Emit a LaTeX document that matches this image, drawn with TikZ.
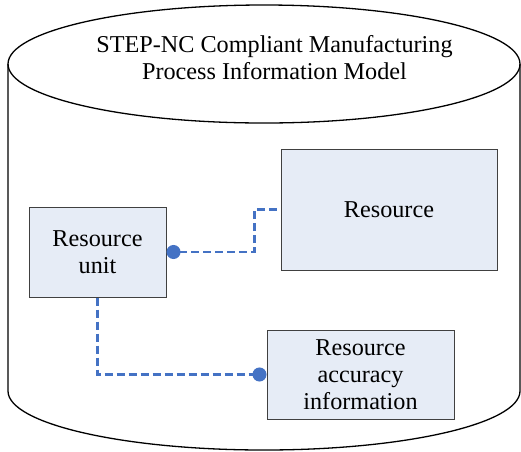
\documentclass[tikz,border=0pt]{standalone}
\usepackage{fontspec}
\setmainfont{Liberation Serif}
\usetikzlibrary{arrows.meta}
\definecolor{boxfill}{HTML}{E6ECF6}
\definecolor{boxline}{HTML}{404040}
\definecolor{connblue}{HTML}{4472C4}
\begin{document}
\begin{tikzpicture}[x=1pt,y=-1pt,
  box/.style={draw=boxline,line width=1pt,fill=boxfill,align=center,inner sep=0pt,
    font=\fontsize{24.2}{27}\selectfont},
  conn/.style={draw=connblue,line width=2.2pt,dash pattern=on 8pt off 4pt}]
\useasboundingbox (0,0) rectangle (521,451);
% cylinder
\begin{scope}[line width=1.3pt]
\draw (264,64) ellipse [x radius=256, y radius=59];
\draw (8,64) -- (8,391) arc[start angle=180, end angle=360, x radius=256, y radius=-59] -- (520,64);
\end{scope}
\node[align=center,font=\fontsize{24.2}{27}\selectfont] (title) at (274.5,58)
  {STEP-NC Compliant Manufacturing\\Process Information Model};
\node[box,minimum width=137pt,minimum height=90pt] (ru) at (97.5,252) {Resource\\unit};
\node[box,minimum width=216pt,minimum height=121pt] (res) at (389,209.5) {Resource};
\node[box,minimum width=187pt,minimum height=89pt] (rai) at (360.5,374.5) {Resource\\accuracy\\information};
\draw[conn,{Circle[length=14pt,width=14pt,fill=connblue,color=connblue]}-] (ru.east) -- ++(88,0) |- (res.west);
\draw[conn,-{Circle[length=14pt,width=14pt,fill=connblue,color=connblue]}] (ru.south) |- (rai.west);
\end{tikzpicture}
\end{document}
